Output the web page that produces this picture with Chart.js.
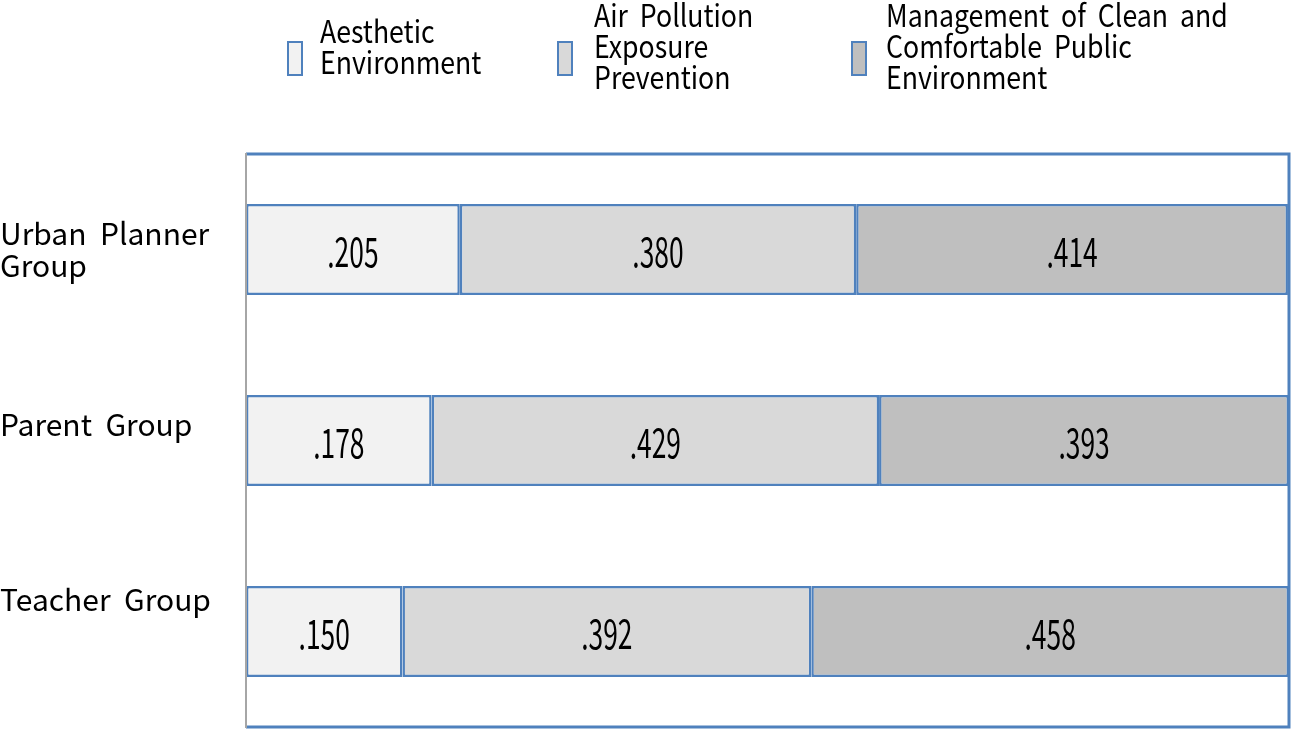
<!DOCTYPE html>
<html>
<head>
<meta charset="utf-8">
<script src="https://cdn.jsdelivr.net/npm/chart.js@4/dist/chart.umd.min.js"></script>
<style>
  body { margin: 0; background: #fff; }
  #wrap { position: relative; width: 1291px; height: 730px; }
  .lg { position: absolute; font-family: 'Noto Sans CJK KR', 'Noto Sans', sans-serif; font-size: 31px; line-height: 31px; color: #000; white-space: pre; transform: scaleX(0.86); transform-origin: 0 0; }
  .box { position: absolute; width: 12px; height: 31px; border: 2px solid #4f81bd; }
</style>
</head>
<body>
<div id="wrap">
  <canvas id="prefChart" width="1291" height="730"></canvas>
</div>
<script>
const groups = [['Urban  Planner', 'Group'], ['Parent  Group', ''], ['Teacher  Group', '', '']];
const seriesNames = ['Aesthetic Environment', 'Air Pollution Exposure Prevention', 'Management of Clean and Comfortable Public Environment'];
const aesthetic = [0.205, 0.178, 0.150];
const airPollution = [0.380, 0.429, 0.392];
const management = [0.414, 0.393, 0.458];
const fills = ['#f2f2f2', '#d9d9d9', '#bfbfbf'];

// legend drawn as html so the names can wrap like the original
const legendLines = [['Aesthetic', 'Environment'], ['Air  Pollution', 'Exposure', 'Prevention'], ['Management  of  Clean  and', 'Comfortable  Public', 'Environment']];
const legendPos = [{ box: 287, text: 320, top: 14 }, { box: 557, text: 594, top: -2 }, { box: 851, text: 886, top: -2 }];
const wrap = document.getElementById('wrap');
legendPos.forEach((p, i) => {
    const b = document.createElement('div');
    b.className = 'box';
    b.style.left = p.box + 'px';
    b.style.top = '41px';
    b.style.background = fills[i];
    wrap.appendChild(b);
    const t = document.createElement('div');
    t.className = 'lg';
    t.style.left = p.text + 'px';
    t.style.top = p.top + 'px';
    t.textContent = legendLines[i].join('\n');
    wrap.appendChild(t);
});

const plotFrame = {
    id: 'plotFrame',
    afterDraw(chart) {
        const { ctx, chartArea: a } = chart;
        ctx.save();
        ctx.strokeStyle = '#4f81bd';
        ctx.lineWidth = 3;
        ctx.beginPath();
        ctx.moveTo(a.left, a.top); ctx.lineTo(a.right, a.top); ctx.lineTo(a.right, a.bottom); ctx.lineTo(a.left, a.bottom);
        ctx.stroke();
        ctx.strokeStyle = '#a6a6a6';
        ctx.lineWidth = 2;
        ctx.beginPath();
        ctx.moveTo(a.left, a.top - 1); ctx.lineTo(a.left, a.bottom + 1);
        ctx.stroke();
        ctx.restore();
    }
};

const barValues = {
    id: 'barValues',
    afterDatasetsDraw(chart) {
        const ctx = chart.ctx;
        chart.data.datasets.forEach((ds, i) => {
            chart.getDatasetMeta(i).data.forEach((el, j) => {
                const c = el.getCenterPoint();
                ctx.save();
                ctx.translate(c.x, c.y + 2);
                ctx.scale(0.66, 1);   // narrow digits like the original
                ctx.fillStyle = '#000';
                ctx.font = '40px "Noto Sans CJK KR", "Noto Sans", sans-serif';
                ctx.textAlign = 'center';
                ctx.textBaseline = 'middle';
                ctx.fillText(ds.data[j].toFixed(3).replace(/^0/, ''), 0, 0);
                ctx.restore();
            });
        });
    }
};

const ctx = document.getElementById('prefChart').getContext('2d');
const prefChart = new Chart(ctx, {
    type: 'bar',
    data: {
        labels: groups,
        datasets: [
            { label: seriesNames[0], data: aesthetic, backgroundColor: fills[0] },
            { label: seriesNames[1], data: airPollution, backgroundColor: fills[1] },
            { label: seriesNames[2], data: management, backgroundColor: fills[2] }
        ].map(ds => Object.assign(ds, { borderColor: '#4f81bd', borderWidth: 2.5, borderSkipped: false, categoryPercentage: 1, barPercentage: 0.477 }))
    },
    options: {
        indexAxis: 'y',
        responsive: false,
        animation: false,
        layout: { padding: { top: 154, right: 2, bottom: 3, left: 0 } },
        scales: {
            x: {
                stacked: true,
                min: 0,
                max: 1,
                grid: { display: false, drawTicks: false },
                border: { display: false },
                ticks: { display: false },
                afterFit(scale) { scale.height = 0; }
            },
            y: {
                stacked: true,
                grid: { display: false, drawTicks: false },
                border: { display: false },
                afterFit(scale) {
                    scale.width = 246;
                    // multi-line labels would otherwise push the plot up
                    scale.paddingTop = 0;
                    scale.paddingBottom = 0;
                },
                ticks: {
                    crossAlign: 'far',
                    padding: 0,
                    color: '#000',
                    font: { family: '"Noto Sans CJK KR", "Noto Sans", sans-serif', size: 30, lineHeight: 1.07 }
                }
            }
        },
        plugins: {
            legend: { display: false },
            tooltip: { enabled: false }
        }
    },
    plugins: [plotFrame, barValues]
});
</script>
</body>
</html>
